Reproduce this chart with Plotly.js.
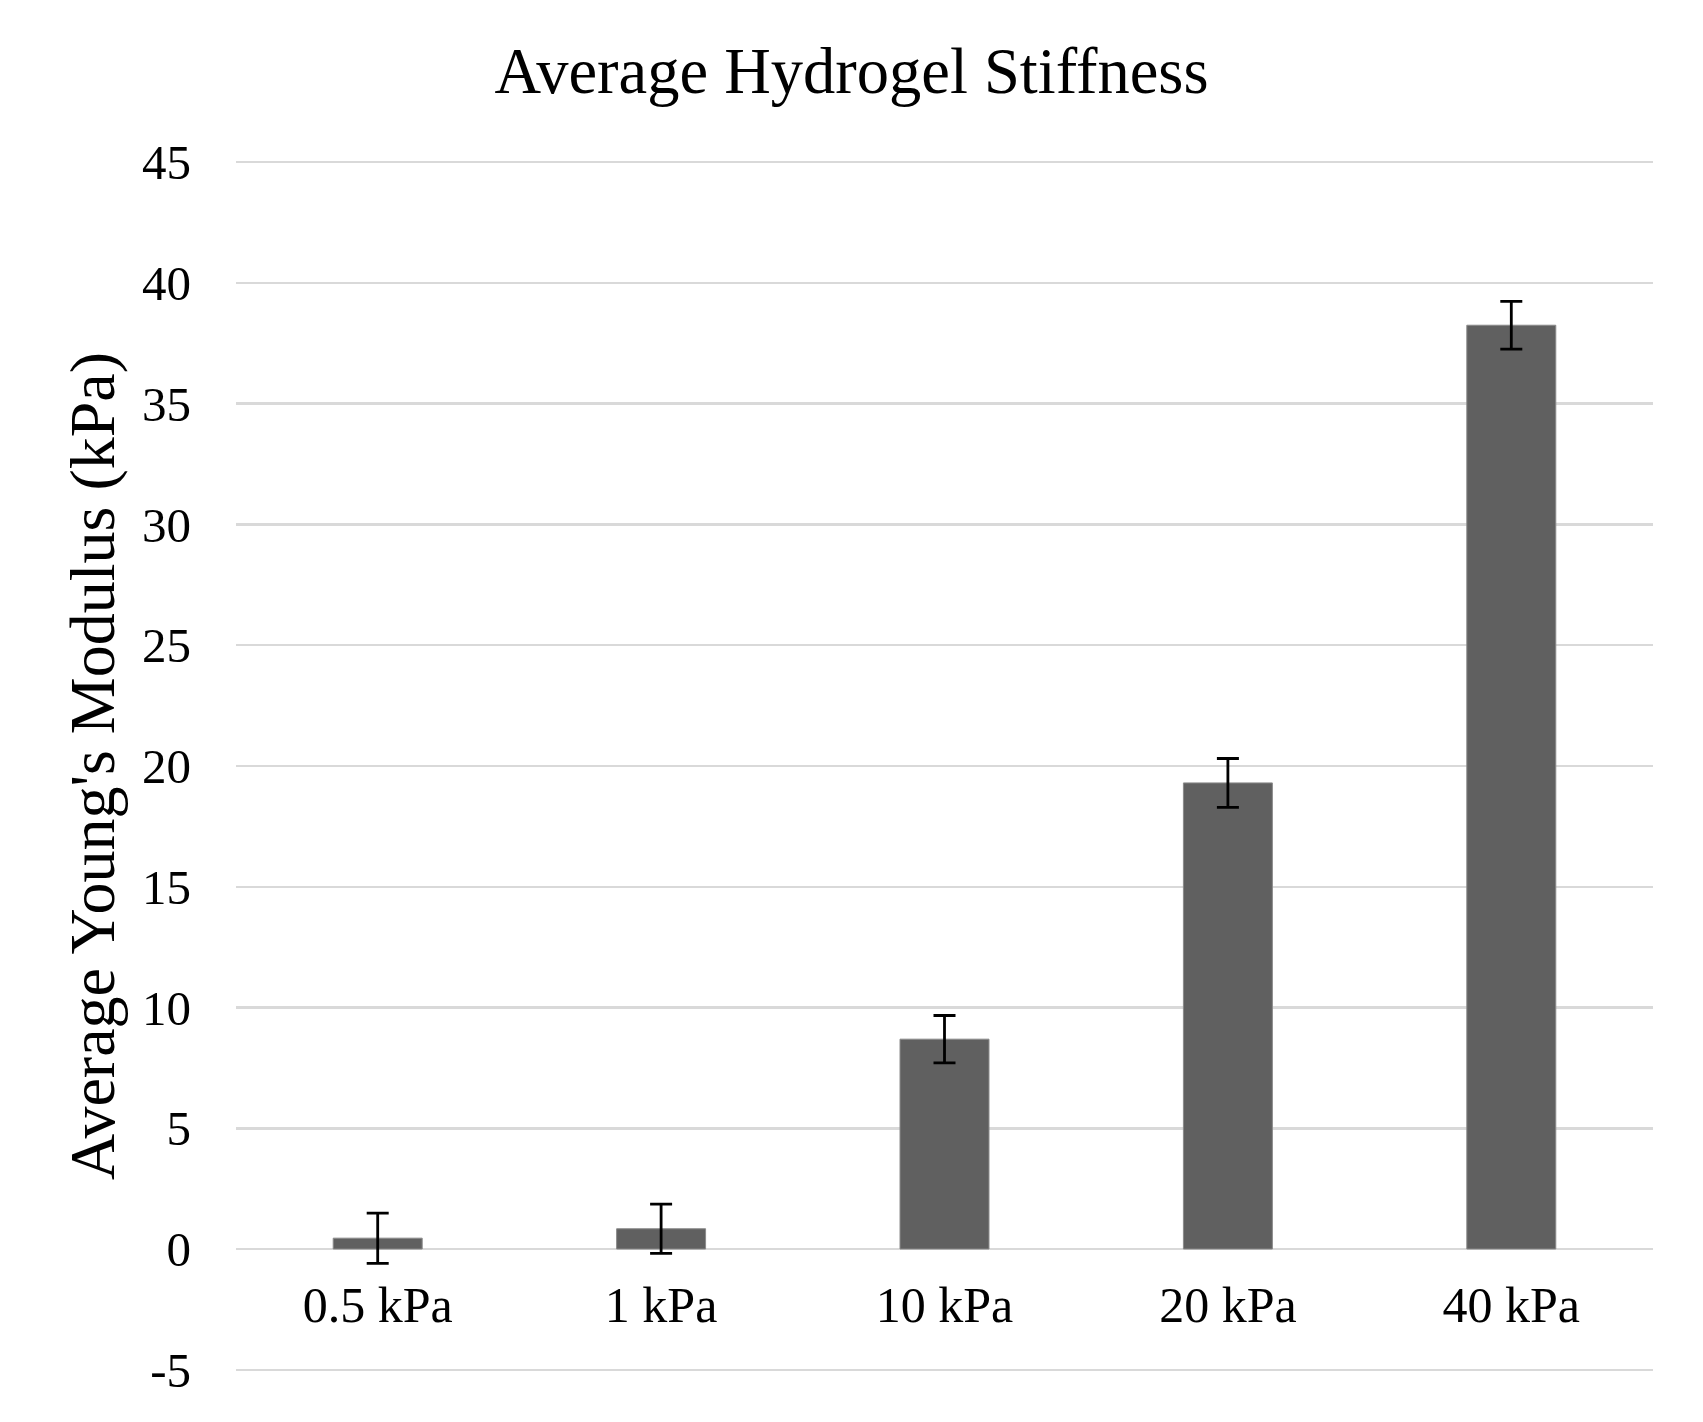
<!DOCTYPE html>
<html>
<head>
<meta charset="utf-8">
<script src="https://cdn.plot.ly/plotly-3.0.1.min.js"></script>
<style>html,body{margin:0;padding:0;background:#fff;}#chart{width:1703px;height:1422px;}</style>
</head>
<body>
<div id="chart"></div>
<script>
const categories = ["0.5 kPa", "1 kPa", "10 kPa", "20 kPa", "40 kPa"];
const meanModulus = [0.45, 0.84, 8.69, 19.3, 38.25];
const errorModulus = [1.04, 1.02, 0.98, 1.01, 0.99];
const yTickValues = [-5, 0, 5, 10, 15, 20, 25, 30, 35, 40, 45];

const serif = "'Liberation Serif', 'Times New Roman', serif";

const trace = {
  type: "bar",
  x: categories,
  y: meanModulus,
  marker: { color: "#606060", line: { color: "#8a8a8a", width: 1 } },
  error_y: { type: "data", array: errorModulus, visible: true, color: "#000000", thickness: 2.8, width: 11 },
  hoverinfo: "skip"
};

const layout = {
  width: 1703,
  height: 1422,
  paper_bgcolor: "#ffffff",
  plot_bgcolor: "#ffffff",
  margin: { l: 236, r: 50, t: 161, b: 51 },
  showlegend: false,
  bargap: 0.686,
  title: {
    text: "Average Hydrogel Stiffness",
    font: { family: serif, size: 64.5, color: "#000000" },
    x: 0.5, xanchor: "center",
    y: 1 - 70 / 1422, yanchor: "middle"
  },
  xaxis: {
    type: "category",
    anchor: "free",
    position: 5.05 / 50.1,
    showgrid: false,
    zeroline: false,
    showline: false,
    ticks: "",
    tickfont: { family: serif, size: 50, color: "#000000" },
    ticklabelstandoff: 22
  },
  yaxis: {
    range: [-5.05, 45.05],
    tickvals: yTickValues,
    ticktext: yTickValues.map(String),
    showgrid: true,
    gridcolor: "#d9d9d9",
    gridwidth: 2.5,
    zeroline: false,
    showline: false,
    ticks: "",
    tickfont: { family: serif, size: 49, color: "#000000" },
    ticklabelstandoff: 44,
    title: {
      text: "Average Young's Modulus (kPa)",
      font: { family: serif, size: 64, color: "#000000" },
      standoff: 6
    },
    automargin: false
  }
};

Plotly.newPlot("chart", [trace], layout, { displayModeBar: false, staticPlot: true });
</script>
</body>
</html>
